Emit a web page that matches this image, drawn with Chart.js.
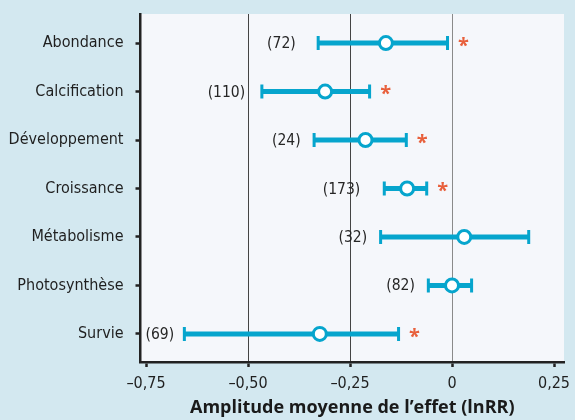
<!DOCTYPE html>
<meta charset="utf-8">
<title>Amplitude moyenne de l'effet</title>
<style>
  html, body { margin: 0; background: #d3e8f0; }
  #wrap { width: 575px; height: 420px; }
</style>
<div id="wrap"><canvas id="chart"></canvas></div>
<script src="https://cdn.jsdelivr.net/npm/chart.js@4"></script>
<script>
  const categories = ["Abondance", "Calcification", "Développement", "Croissance", "Métabolisme", "Photosynthèse", "Survie"]
  const means = [-0.162, -0.311, -0.212, -0.110, 0.030, 0.000, -0.324]
  const lower = [-0.328, -0.466, -0.338, -0.166, -0.175, -0.058, -0.656]
  const upper = [-0.011, -0.202, -0.112, -0.062, 0.188, 0.048, -0.131]
  const counts = [72, 110, 24, 173, 32, 82, 69]
  // right edge of each "(n)" label, in lnRR units
  const countX = [-0.383, -0.507, -0.371, -0.225, -0.208, -0.091, -0.681]
  const significant = [true, true, true, true, false, false, true]
  const xTicks = [-0.75, -0.5, -0.25, 0, 0.25]

  const BLUE = "#06a5cd"
  const NARROW = "'DejaVu Sans Condensed', sans-serif"
  const FONT = "'Open Sans', sans-serif"

  const fmt = v => v === 0 ? "0" : (v < 0 ? "\u2013" : "") + Math.abs(v).toFixed(2).replace(".", ",")

  const plotBg = {
    id: "plotBg",
    beforeDraw(chart) {
      const { ctx, chartArea: a } = chart
      ctx.save()
      ctx.fillStyle = "#f5f7fb"
      ctx.fillRect(a.left, a.top, a.right - a.left, a.bottom - a.top)
      ctx.restore()
    },
  }

  const errorBars = {
    id: "errorBars",
    beforeDatasetsDraw(chart) {
      const { ctx, scales: { x, y } } = chart
      ctx.save()
      ctx.strokeStyle = BLUE
      categories.forEach((c, i) => {
        const py = y.getPixelForValue(i)
        const x0 = x.getPixelForValue(lower[i])
        const x1 = x.getPixelForValue(upper[i])
        ctx.lineWidth = 5
        ctx.beginPath()
        ctx.moveTo(x0, py)
        ctx.lineTo(x1, py)
        ctx.stroke()
        ctx.lineWidth = 3
        ctx.beginPath()
        ctx.moveTo(x0, py - 7)
        ctx.lineTo(x0, py + 7)
        ctx.moveTo(x1, py - 7)
        ctx.lineTo(x1, py + 7)
        ctx.stroke()
      })
      ctx.restore()
    },
    afterDatasetsDraw(chart) {
      const { ctx, scales: { x, y } } = chart
      ctx.save()
      ctx.textBaseline = "middle"
      categories.forEach((c, i) => {
        const py = y.getPixelForValue(i)
        ctx.font = "15.5px " + NARROW
        ctx.fillStyle = "#262626"
        ctx.textAlign = "right"
        ctx.fillText("(" + counts[i] + ")", x.getPixelForValue(countX[i]), py + 1)
        if (significant[i]) {
          ctx.font = "bold 20px " + FONT
          ctx.fillStyle = "#e8603c"
          ctx.textAlign = "center"
          ctx.fillText("*", x.getPixelForValue(upper[i]) + 16, py + 3)
        }
      })
      ctx.restore()
    },
  }

  new Chart(document.getElementById("chart"), {
    type: "scatter",
    data: {
      datasets: [{
        data: means.map((m, i) => ({ x: m, y: i })),
        pointRadius: 6.5,
        pointHoverRadius: 6.5,
        pointBorderWidth: 3,
        pointBackgroundColor: "#fff",
        pointBorderColor: BLUE,
      }],
    },
    options: {
      responsive: true,
      maintainAspectRatio: false,
      animation: false,
      events: [],
      layout: { padding: { top: 14, right: 11, left: 0, bottom: 0 } },
      plugins: { legend: { display: false }, tooltip: { enabled: false } },
      scales: {
        x: {
          type: "linear",
          min: -0.7635,
          max: 0.2745,
          afterBuildTicks: s => { s.ticks = xTicks.map(v => ({ value: v })) },
          afterFit: s => { s.height = 58; s.paddingLeft = 0; s.paddingRight = 0 },
          border: { color: "#222", width: 2.5 },
          grid: {
            color: c => c.tick && c.tick.value === 0 ? "#8a8a8a" : (c.tick && (c.tick.value === -0.5 || c.tick.value === -0.25) ? "#444" : "rgba(0,0,0,0)"),
            lineWidth: 1,
            tickColor: "#222",
            tickWidth: 2.5,
            tickLength: 5,
          },
          ticks: {
            callback: v => fmt(v),
            color: "#1f1f1f",
            font: { family: NARROW, size: 16 },
            padding: 7,
            maxRotation: 0,
            autoSkip: false,
          },
          title: {
            display: true,
            text: "Amplitude moyenne de l\u2019effet (lnRR)",
            color: "#1a1a1a",
            font: { family: FONT, size: 18, weight: "bold" },
            padding: { top: 0, bottom: 1 },
          },
        },
        y: {
          type: "linear",
          reverse: true,
          min: -0.6,
          max: 6.58,
          afterBuildTicks: s => { s.ticks = categories.map((c, i) => ({ value: i })) },
          afterFit: s => { s.width = 140.5; s.paddingTop = 0; s.paddingBottom = 0 },
          border: { color: "#222", width: 2.5 },
          grid: {
            drawOnChartArea: false,
            tickColor: "#222",
            tickWidth: 2.5,
            tickLength: 5,
          },
          ticks: {
            callback: v => categories[v],
            color: "#1f1f1f",
            font: { family: NARROW, size: 16 },
            padding: 12,
            autoSkip: false,
          },
        },
      },
    },
    plugins: [plotBg, errorBars],
  })
</script>
